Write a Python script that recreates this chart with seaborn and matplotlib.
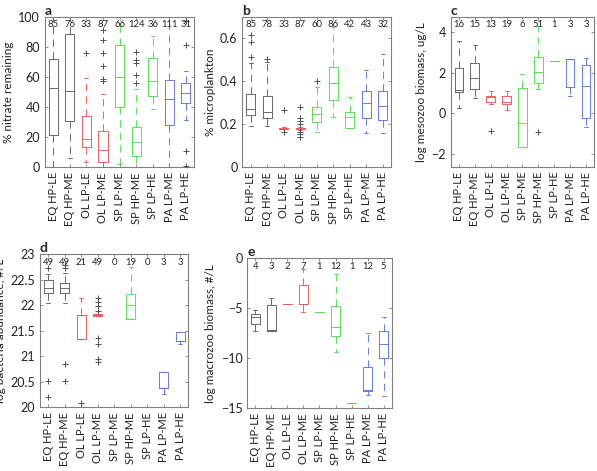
#!/usr/bin/env python3
"""Box plots of plankton/nutrient metrics by region and regime (panels a-e)."""

import pandas as pd
import matplotlib
matplotlib.use('Agg')
import matplotlib.pyplot as plt
import matplotlib.transforms as mtransforms
import seaborn as sns

# Categories and colours
GROUPS = ['EQ HP-LE', 'EQ HP-ME', 'OL LP-LE', 'OL LP-ME', 'SP LP-ME',
          'SP HP-ME', 'SP LP-HE', 'PA LP-ME', 'PA LP-HE']
GROUP_COLORS = ['#5e5e5e', '#5e5e5e', '#ec5656', '#ec5656', '#4ee04e',
                '#4ee04e', '#4ee04e', '#5f72ec', '#5f72ec']

# Each box: (lower whisker, q1, median, q3, upper whisker)
A_STATS = [
    (0, 21.2, 52.5, 71.7, 100),
    (6, 31, 51, 88.5, 100),
    (3.3, 13.3, 18.8, 34.3, 59.1),
    (0.5, 3.3, 11.5, 24.3, 48.7),
    (2, 39.8, 60.2, 81.2, 100),
    (0, 7.5, 16.6, 26.5, 52),
    (39, 47.3, 57.5, 72.4, 87.2),
    (0, 28.1, 45.1, 58, 100),
    (31.4, 42.9, 49.3, 55.8, 64),
]
A_COUNTS = [85, 76, 33, 87, 66, 124, 36, 111, 31]
A_OUTLIERS = [[], [], [76], [91, 84.5, 76, 67, 58.5, 57], [],
              [76.5, 71.5, 69.5, 61, 56], [], [], [97, 81.4, 10.8, 1]]

B_STATS = [
    (0.192, 0.241, 0.269, 0.343, 0.486),
    (0.192, 0.227, 0.255, 0.331, 0.49),
    (0.176, 0.177, 0.180, 0.183, 0.186),
    (0.174, 0.176, 0.179, 0.183, 0.186),
    (0.162, 0.209, 0.246, 0.281, 0.371),
    (0.232, 0.315, 0.393, 0.464, 0.65),
    (0.181, 0.181, 0.235, 0.255, 0.329),
    (0.158, 0.23, 0.297, 0.354, 0.452),
    (0.158, 0.218, 0.285, 0.357, 0.527),
]
B_COUNTS = [85, 78, 33, 87, 60, 86, 42, 43, 32]
B_OUTLIERS = [[0.513, 0.583, 0.614], [0.505], [0.266, 0.165],
              [0.278, 0.23, 0.215, 0.2, 0.165, 0.155, 0.142], [0.4],
              [], [], [], []]

C_STATS = [
    (0.25, 1.04, 1.15, 2.22, 3.59),
    (0.74, 1.2, 1.73, 2.47, 3.36),
    (0.46, 0.58, 0.79, 0.87, 1.12),
    (0.16, 0.46, 0.55, 0.87, 1.12),
    (-1.64, -1.64, -0.49, 1.23, 1.94),
    (1.2, 1.51, 2.06, 2.8, 4.3),
    (2.58, 2.58, 2.58, 2.58, 2.58),
    (0.86, 1.28, 2.66, 2.66, 2.66),
    (-0.69, -0.21, 1.35, 2.38, 2.75),
]
C_COUNTS = [16, 15, 13, 19, 6, 51, 1, 3, 3]
C_OUTLIERS = [[], [], [-0.87], [], [], [-0.94], [], [], []]

D_STATS = [
    (22.04, 22.23, 22.33, 22.5, 22.6),
    (22.04, 22.24, 22.34, 22.43, 22.62),
    (21.34, 21.34, 21.81, 21.81, 22.13),
    (21.79, 21.79, 21.81, 21.83, 21.83),
    None,
    (21.72, 21.72, 22.0, 22.21, 22.75),
    None,
    (20.26, 20.37, 20.37, 20.7, 20.7),
    (21.24, 21.29, 21.29, 21.47, 21.47),
]
D_COUNTS = [49, 49, 21, 49, 0, 19, 0, 3, 3]
D_OUTLIERS = [[22.72, 20.52, 20.2], [22.79, 22.73, 20.85, 20.52], [20.09],
              [22.13, 22.07, 21.99, 21.89, 21.35, 21.23, 20.95, 20.89],
              [], [], [], [], []]

E_STATS = [
    (-7.27, -6.6, -5.9, -5.57, -5.2),
    (-7.23, -7.23, -7.17, -4.67, -3.93),
    (-4.6, -4.6, -4.6, -4.6, -4.6),
    (-5.33, -4.6, -4.6, -2.67, -1.07),
    (-5.4, -5.4, -5.4, -5.4, -5.4),
    (-9.4, -7.73, -6.87, -4.73, -1.6),
    (-14.47, -14.47, -14.47, -14.47, -14.47),
    (-13.67, -13.23, -13.17, -10.83, -7.5),
    (-13.73, -10.0, -8.6, -7.27, -5.83),
]
E_COUNTS = [4, 3, 2, 7, 1, 12, 1, 12, 5]
E_OUTLIERS = [[] for _ in GROUPS]

sns.set_style('white')
plt.rcParams['font.family'] = ['Lato', 'DejaVu Sans']

PALETTE = dict(zip(GROUPS, GROUP_COLORS))
SPINE = '#808080'


def draw_panel(ax, stats, counts, outliers, ylim, yticks, ylabel, letter):
    df = pd.DataFrame([(g, v) for g, s in zip(GROUPS, stats) if s is not None for v in s],
                      columns=['group', 'value'])
    sns.boxplot(data=df, x='group', y='value', hue='group', order=GROUPS,
                hue_order=GROUPS, palette=PALETTE, fill=False, width=0.55,
                whis=(0, 100), showfliers=False, linewidth=0.65, legend=False,
                whiskerprops=dict(linestyle=(0, (8, 6))), capwidths=0.25, ax=ax)

    out = pd.DataFrame([(g, v) for g, vals in zip(GROUPS, outliers) for v in vals],
                       columns=['group', 'value'])
    if len(out):
        sns.stripplot(data=out, x='group', y='value', order=GROUPS, jitter=False,
                      marker='+', color='#505050', size=5, linewidth=0.7, ax=ax)

    ax.set_xlim(-0.5, len(GROUPS) - 0.5)
    ax.set_ylim(*ylim)
    ax.set_yticks(yticks)
    ax.set_xticks(range(len(GROUPS)))
    ax.set_xticklabels(GROUPS)
    ax.set_xlabel('')
    ax.set_ylabel(ylabel, fontsize=8.5, color='#222222', labelpad=3)
    ax.tick_params(axis='x', labelrotation=90, labelsize=8)
    ax.tick_params(axis='y', labelsize=9)
    ax.tick_params(direction='in', length=2.5, width=0.6, color=SPINE,
                   top=True, right=True, bottom=True, left=True,
                   labelcolor='#222222')
    for sp in ax.spines.values():
        sp.set_color(SPINE)
        sp.set_linewidth(0.8)

    trans = mtransforms.blended_transform_factory(ax.transData, ax.transAxes)
    for i, n in enumerate(counts):
        ax.text(i, 0.975, str(n), transform=trans, ha='center', va='top',
                fontsize=6.8, color='#222222')
    ax.text(0.0, 1.0, letter, transform=ax.transAxes, ha='left', va='bottom',
            fontsize=10, fontweight='bold')


fig = plt.figure(figsize=(5.97, 4.71), dpi=100)
ax_a = fig.add_axes([0.0754, 0.6448, 0.2496, 0.3197])
ax_b = fig.add_axes([0.4059, 0.6448, 0.2491, 0.3197])
ax_c = fig.add_axes([0.7554, 0.6461, 0.2395, 0.3185])
ax_d = fig.add_axes([0.0670, 0.1352, 0.2484, 0.3255])
ax_e = fig.add_axes([0.4142, 0.1331, 0.2419, 0.3185])

draw_panel(ax_a, A_STATS, A_COUNTS, A_OUTLIERS, (0, 100), [0, 20, 40, 60, 80, 100],
           '% nitrate remaining', 'a')
draw_panel(ax_b, B_STATS, B_COUNTS, B_OUTLIERS, (0, 0.7), [0, 0.2, 0.4, 0.6],
           '% microplankton', 'b')
draw_panel(ax_c, C_STATS, C_COUNTS, C_OUTLIERS, (-2.63, 4.77), [-2, 0, 2, 4],
           'log mesozoo biomass, ug/L', 'c')
draw_panel(ax_d, D_STATS, D_COUNTS, D_OUTLIERS, (20, 23),
           [20, 20.5, 21, 21.5, 22, 22.5, 23], 'log bacteria abundance, #/L', 'd')
draw_panel(ax_e, E_STATS, E_COUNTS, E_OUTLIERS, (-15, 0), [-15, -10, -5, 0],
           'log macrozoo biomass, #/L', 'e')

ax_b.set_yticklabels(['0', '0.2', '0.4', '0.6'])
ax_d.set_yticklabels(['20', '20.5', '21', '21.5', '22', '22.5', '23'])

fig.savefig('out.png', dpi=100)
plt.close(fig)
